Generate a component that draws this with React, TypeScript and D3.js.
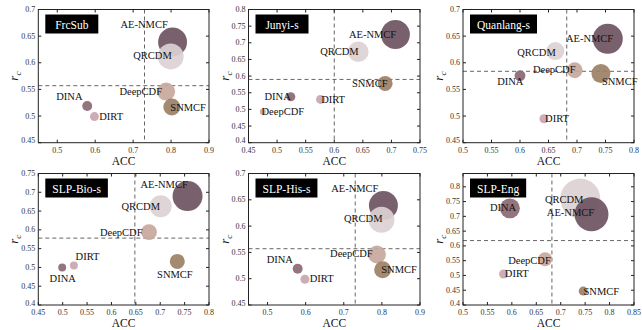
import React, { useEffect, useRef } from 'react';
import * as d3 from 'd3';

const datasets = ['FrcSub', 'Junyi-s', 'Quanlang-s', 'SLP-Bio-s', 'SLP-His-s', 'SLP-Eng'];
const models = ['AE-NMCF', 'QRCDM', 'DeepCDF', 'SNMCF', 'DINA', 'DIRT'];
const modelColors = ['#6d5361', '#dcd1d3', '#c7a79c', '#9c8064', '#8b6874', '#c9a6ae'];

// ACC per dataset, in model order
const accValues = [
  [0.804, 0.799, 0.787, 0.802, 0.579, 0.598],
  [0.707, 0.642, 0.475, 0.689, 0.524, 0.576],
  [0.754, 0.662, 0.696, 0.742, 0.600, 0.642],
  [0.756, 0.701, 0.677, 0.735, 0.499, 0.523],
  [0.804, 0.799, 0.787, 0.802, 0.579, 0.598],
  [0.763, 0.740, 0.668, 0.746, 0.596, 0.583],
];
// r_c per dataset
const rcValues = [
  [0.639, 0.612, 0.546, 0.517, 0.519, 0.499],
  [0.725, 0.673, 0.493, 0.578, 0.538, 0.530],
  [0.645, 0.622, 0.586, 0.580, 0.576, 0.495],
  [0.690, 0.663, 0.594, 0.516, 0.500, 0.505],
  [0.639, 0.612, 0.546, 0.517, 0.519, 0.499],
  [0.707, 0.760, 0.555, 0.447, 0.727, 0.505],
];
// bubble weight
const sizeValues = [
  [93, 75, 36, 32, 11, 9],
  [93, 47, 4, 25, 9, 9],
  [100, 36, 28, 40, 13, 9],
  [100, 54, 28, 25, 7, 7],
  [93, 75, 36, 32, 11, 9],
  [128, 178, 22, 9, 44, 9],
];
// label anchors (data coordinates)
const labelAcc = [
  [0.729, 0.751, 0.720, 0.845, 0.532, 0.642],
  [0.667, 0.609, 0.510, 0.662, 0.501, 0.598],
  [0.722, 0.629, 0.660, 0.775, 0.583, 0.665],
  [0.708, 0.660, 0.620, 0.730, 0.500, 0.551],
  [0.729, 0.751, 0.720, 0.845, 0.532, 0.642],
  [0.720, 0.707, 0.636, 0.783, 0.582, 0.610],
];
const labelRc = [
  [0.672, 0.614, 0.547, 0.517, 0.536, 0.500],
  [0.725, 0.673, 0.493, 0.578, 0.538, 0.530],
  [0.645, 0.620, 0.587, 0.564, 0.565, 0.495],
  [0.721, 0.661, 0.592, 0.480, 0.471, 0.529],
  [0.672, 0.614, 0.547, 0.517, 0.536, 0.500],
  [0.712, 0.757, 0.550, 0.447, 0.730, 0.505],
];
const accThreshold = [0.73, 0.6, 0.682, 0.648, 0.73, 0.682];
const rcThreshold = [0.557, 0.59, 0.584, 0.578, 0.557, 0.618];

const xDomains = [[0.45, 0.9], [0.45, 0.75], [0.5, 0.8], [0.45, 0.8], [0.45, 0.9], [0.5, 0.85]];
const yDomains = [[0.45, 0.7], [0.4, 0.8], [0.45, 0.7], [0.4, 0.75], [0.45, 0.7], [0.4, 0.845]];
const xTicks = [
  [0.5, 0.6, 0.7, 0.8, 0.9],
  [0.45, 0.5, 0.55, 0.6, 0.65, 0.7, 0.75],
  [0.5, 0.55, 0.6, 0.65, 0.7, 0.75, 0.8],
  [0.45, 0.5, 0.55, 0.6, 0.65, 0.7, 0.75, 0.8],
  [0.5, 0.6, 0.7, 0.8, 0.9],
  [0.5, 0.55, 0.6, 0.65, 0.7, 0.75, 0.8, 0.85],
];
const yTicks = [
  [0.45, 0.5, 0.55, 0.6, 0.65, 0.7],
  [0.4, 0.45, 0.5, 0.55, 0.6, 0.65, 0.7, 0.75, 0.8],
  [0.45, 0.5, 0.55, 0.6, 0.65, 0.7],
  [0.4, 0.45, 0.5, 0.55, 0.6, 0.65, 0.7, 0.75],
  [0.45, 0.5, 0.55, 0.6, 0.65, 0.7],
  [0.4, 0.45, 0.5, 0.55, 0.6, 0.65, 0.7, 0.75, 0.8],
];

const cols = [[38.3, 209], [248.5, 420], [463, 634]];
const rows = [[9.5, 142.7], [173.5, 305]];
const serif = "'Liberation Serif', 'Times New Roman', Times, serif";
const fmt = (d: number) => String(+d.toFixed(2));

const App = () => {
  const svgRef = useRef<SVGSVGElement>(null);

  useEffect(() => {
    const svg = d3.select(svgRef.current);
    svg.selectAll('*').remove();
    const rScale = d3.scaleSqrt().domain([0, 100]).range([0, 15]);

    datasets.forEach((name, i) => {
      const [x0, x1] = cols[i % 3];
      const [y0, y1] = rows[Math.floor(i / 3)];
      const x = d3.scaleLinear().domain(xDomains[i]).range([x0, x1]);
      const y = d3.scaleLinear().domain(yDomains[i]).range([y1, y0]);
      const g = svg.append('g');

      // thresholds
      g.append('line')
        .attr('x1', x(accThreshold[i])).attr('x2', x(accThreshold[i]))
        .attr('y1', y0).attr('y2', y1)
        .attr('stroke', '#666').attr('stroke-width', 1).attr('stroke-dasharray', '4,3');
      g.append('line')
        .attr('x1', x0).attr('x2', x1)
        .attr('y1', y(rcThreshold[i])).attr('y2', y(rcThreshold[i]))
        .attr('stroke', '#666').attr('stroke-width', 1).attr('stroke-dasharray', '4,3');

      // bubbles, largest first
      const order = d3.range(models.length).sort((a, b) => sizeValues[i][b] - sizeValues[i][a]);
      g.selectAll('circle.b').data(order).enter().append('circle')
        .attr('cx', (m) => x(accValues[i][m]))
        .attr('cy', (m) => y(rcValues[i][m]))
        .attr('r', (m) => rScale(sizeValues[i][m]))
        .attr('fill', (m) => modelColors[m])
        .attr('fill-opacity', 0.92);

      g.selectAll('text.lbl').data(models).enter().append('text')
        .attr('x', (_, m) => x(labelAcc[i][m]))
        .attr('y', (_, m) => y(labelRc[i][m]))
        .attr('text-anchor', 'middle')
        .attr('dominant-baseline', 'central')
        .style('font-size', '10.5px').attr('fill', '#111')
        .text((d) => d);

      // frame
      g.append('rect')
        .attr('x', x0).attr('y', y0).attr('width', x1 - x0).attr('height', y1 - y0)
        .attr('fill', 'none').attr('stroke', '#222').attr('stroke-width', 1);

      const tl = 3;
      xTicks[i].forEach((t) => {
        g.append('line').attr('x1', x(t)).attr('x2', x(t)).attr('y1', y1).attr('y2', y1 - tl).attr('stroke', '#222');
        g.append('line').attr('x1', x(t)).attr('x2', x(t)).attr('y1', y0).attr('y2', y0 + tl).attr('stroke', '#222');
        g.append('text').attr('x', x(t)).attr('y', y1 + 10)
          .attr('text-anchor', 'middle').style('font-size', '8px').attr('fill', '#333')
          .text(fmt(t));
      });
      yTicks[i].forEach((t) => {
        g.append('line').attr('x1', x0).attr('x2', x0 + tl).attr('y1', y(t)).attr('y2', y(t)).attr('stroke', '#222');
        g.append('line').attr('x1', x1).attr('x2', x1 - tl).attr('y1', y(t)).attr('y2', y(t)).attr('stroke', '#222');
        g.append('text').attr('x', x0 - 3).attr('y', y(t) - (t === yDomains[i][0] ? 2 : 0))
          .attr('text-anchor', 'end').attr('dominant-baseline', 'central')
          .style('font-size', '8px').attr('fill', '#333')
          .text(fmt(t));
      });

      g.append('text').attr('x', (x0 + x1) / 2).attr('y', y1 + 22)
        .attr('text-anchor', 'middle').style('font-size', '11.5px').attr('fill', '#111')
        .text('ACC');

      const yl = g.append('text')
        .attr('transform', `translate(${x0 - 20},${(y0 + y1) / 2}) rotate(-90)`)
        .attr('text-anchor', 'middle').style('font-size', '13px').attr('fill', '#111');
      yl.append('tspan').attr('font-style', 'italic').text('r');
      yl.append('tspan').attr('font-style', 'italic').style('font-size', '9px').attr('dy', 3).text('c');

      // title box
      const tb = g.append('g');
      const tt = tb.append('text')
        .style('font-size', '11.5px').attr('fill', '#fff')
        .attr('dominant-baseline', 'central')
        .text(name);
      const tw = (tt.node() as SVGTextElement).getComputedTextLength();
      const bw = Math.max(53, tw + 14);
      const bx = x0 + 7;
      const by = y0 + 5;
      tb.insert('rect', 'text').attr('x', bx).attr('y', by).attr('width', bw).attr('height', 19).attr('fill', '#000');
      tt.attr('x', bx + bw / 2).attr('y', by + 10).attr('text-anchor', 'middle');
    });
  }, []);

  return (
    <svg ref={svgRef} width={642} height={330}
      style={{ position: 'absolute', left: 0, top: 0, background: '#fff', fontFamily: serif }} />
  );
};

export default App;
